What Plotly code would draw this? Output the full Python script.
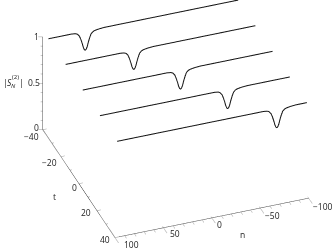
import plotly.graph_objects as go

t_values = [-38, -19, 0, 19, 38]
dip_centres = [58, 25.5, -5, -36, -69]
baseline_n = [96, 88, 80, 72, 64, 56, 48, 40, 32, 24, 16, 8, 0, -8, -16, -24, -32, -40, -48, -56, -64, -72, -80, -88, -96, -100]
baseline = 1.0
profile_offsets = [20, 14, 10, 8, 6, 4.5, 3, 2, 1, 0, -1, -2, -3, -4.5, -6, -8, -10, -14, -20]
profile_drop = [0, 0, 0.005, 0.015, 0.04, 0.08, 0.13, 0.17, 0.195, 0.205, 0.195, 0.17, 0.13, 0.08, 0.04, 0.02, 0.012, 0.005, 0]

n_ticks = [100, 50, 0, -50, -100]
t_ticks = [-40, -20, 0, 20, 40]
z_ticks = [1, 0.5, 0]
n_minor = [90, 80, 70, 60, 40, 30, 20, 10, -10, -20, -30, -40, -60, -70, -80, -90]
t_minor = [-30, -10, 10, 30]
z_minor = [0.9, 0.8, 0.7, 0.6, 0.4, 0.3, 0.2, 0.1]

AX = "#4a4a4a"
TK = "#9a9a9a"
fig = go.Figure()

def seg(xs, ys, zs, color, width):
    fig.add_trace(go.Scatter3d(x=xs, y=ys, z=zs, mode="lines", line=dict(color=color, width=width),
                               showlegend=False, hoverinfo="skip"))

for t, c in zip(t_values, dip_centres):
    pts = [(n, baseline) for n in baseline_n if abs(n - c) > 20]
    pts += [(c + o, baseline - d) for o, d in zip(profile_offsets, profile_drop)]
    pts.sort(key=lambda p: -p[0])
    seg([p[0] for p in pts], [t] * len(pts), [p[1] for p in pts], "#111111", 2)

# axes
seg(n_ticks, [40] * 5, [0] * 5, AX, 1)
seg([100] * 5, t_ticks, [0] * 5, AX, 1)
seg([100] * 3, [-40] * 3, z_ticks, AX, 1)
for n in n_ticks:
    seg([n, n], [39, 44], [0, 0], TK, 1)
for n in n_minor:
    seg([n, n], [40, 42], [0, 0], TK, 1)
for t in t_ticks:
    seg([100, 96], [t, t], [0, 0], TK, 1)
for t in t_minor:
    seg([100, 98], [t, t], [0, 0], TK, 1)
for z in z_ticks:
    seg([100, 104], [-40, -40.6], [z, z], TK, 1)
for z in z_minor:
    seg([100, 102], [-40, -40.3], [z, z], TK, 1)

font = dict(family="Open Sans", size=8.5, color="#222222")
small = dict(family="Open Sans", size=6, color="#222222")
def lab(v):
    return str(v).replace("-", "\u2212")

ann = []
n_shift = [(16, 7), (12, 6), (8, 7), (12, 7), (14, 8)]
t_shift = [(-11, 7), (-11, 6), (-4.5, 3.5), (-11, 2), (-10, 2)]
z_shift = [(-6, 0), (-9, -1), (-6, -2)]
for v, s in zip(n_ticks, n_shift):
    ann.append(dict(x=v, y=40, z=0, text=lab(v), xshift=s[0], yshift=-s[1]))
for v, s in zip(t_ticks, t_shift):
    ann.append(dict(x=100, y=v, z=0, text=lab(v), xshift=s[0], yshift=-s[1]))
for v, s in zip(z_ticks, z_shift):
    ann.append(dict(x=100, y=-40, z=v, text=lab(v), xshift=s[0], yshift=-s[1]))
for a in ann:
    a.update(showarrow=False, font=font)

hidden = dict(visible=False, showgrid=False, showbackground=False, zeroline=False, showspikes=False)

def paper(text, x, y, f=font):
    return dict(text=text, x=x/332, y=1-y/250, xref="paper", yref="paper", showarrow=False, font=f,
                xanchor="center", yanchor="middle")

k = 1.635
cz = -0.072
cx, cy = 0.073, -0.027
D = 1.0
fig.update_layout(
    width=332, height=250, margin=dict(l=0, r=0, t=0, b=0), paper_bgcolor="white",
    scene=dict(
        domain=dict(x=[0, 1], y=[0, 1]),
        xaxis=dict(range=[-110, 110], **hidden), yaxis=dict(range=[-44, 44], **hidden), zaxis=dict(range=[-0.1, 1.1], **hidden),
        aspectmode="manual", aspectratio=dict(x=k*1.1*1.01, y=k*1.1*1.02, z=0.553*k*1.2*0.985),
        annotations=ann,
        camera=dict(projection=dict(type="orthographic"), eye=dict(x=0.578*D + cx, y=1.564*D + cy, z=1.104*D + cz),
                    center=dict(x=cx, y=cy, z=cz), up=dict(x=0, y=0, z=1)),
    ),
    annotations=[
        paper("n", 242, 234), paper("t", 54, 196),
        paper("|", 5, 82), paper("<i>S</i>", 9, 82), paper("(2)", 15.5, 77, small), paper("<i>N</i>", 14, 85.5, small), paper("|", 21, 82),
    ],
)
fig.write_html("out.html", config=dict(displayModeBar=False), post_script="document.body.style.margin='0';")
